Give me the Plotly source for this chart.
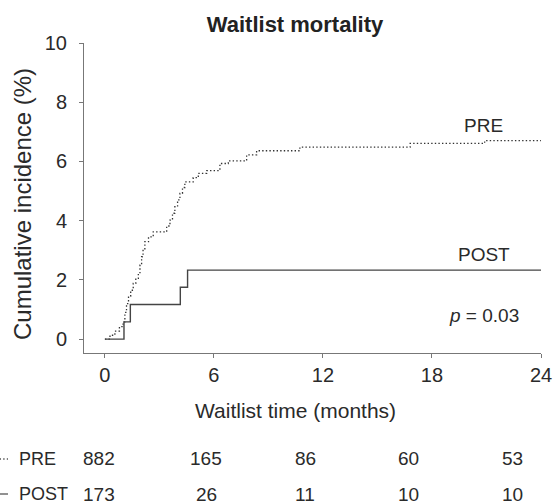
import plotly.graph_objects as go

# ---- data ----
pre_t = [0, 0.28, 0.55, 0.8, 1.0, 1.1, 1.19, 1.3, 1.42, 1.56, 1.7, 1.84, 1.93, 2.02, 2.1, 2.2,
         2.4, 2.66, 3.4, 3.58, 3.72, 3.85, 4.0, 4.13, 4.27, 4.4, 4.86, 5.14, 5.6, 6.33, 6.79,
         7.8, 8.35, 10.73, 16.8, 20.9, 24]
pre_y = [0, 0.13, 0.27, 0.42, 0.58, 0.9, 1.2, 1.45, 1.65, 1.88, 2.05, 2.22, 2.5, 2.78, 3.05, 3.29,
         3.45, 3.62, 3.82, 4.02, 4.25, 4.47, 4.7, 4.92, 5.12, 5.31, 5.45, 5.6, 5.69, 5.93, 6.02,
         6.22, 6.36, 6.48, 6.61, 6.7, 6.7]
post_t = [0, 1.05, 1.4, 4.15, 4.55, 24]
post_y = [0, 0.58, 1.17, 1.75, 2.33, 2.33]

x_ticks = [0, 6, 12, 18, 24]
y_ticks = [0, 2, 4, 6, 8, 10]

risk_groups = ["PRE", "POST"]
risk_pre = [882, 165, 86, 60, 53]
risk_post = [173, 26, 11, 10, 10]

FONT = "Liberation Sans"
TXT = "#2a2a2a"
AX = "#777777"

fig = go.Figure()
fig.add_trace(go.Scatter(x=pre_t, y=pre_y, mode="lines", line_shape="hv",
                         line=dict(color="#333333", width=1.3, dash="1.4px,2.2px"), name="PRE"))
fig.add_trace(go.Scatter(x=post_t, y=post_y, mode="lines", line_shape="hv",
                         line=dict(color="#444444", width=1.4), name="POST"))

# plot area geometry (px)
L, R, T, B = 84, 13, 43, 151
W, H = 554, 504
pw = W - L - R
ph = H - T - B

def px_to_paper_x(px):
    return (px - L) / pw

def px_to_paper_y(py):
    return (H - B - py) / ph

ann = []
ann.append(dict(x=20.86, y=7.23, xref="x", yref="y", text="PRE", showarrow=False,
                font=dict(family=FONT, size=19, color=TXT)))
ann.append(dict(x=20.86, y=2.87, xref="x", yref="y", text="POST", showarrow=False,
                font=dict(family=FONT, size=19, color=TXT)))
ann.append(dict(x=20.86, y=0.8, xref="x", yref="y", text="<i>p</i> = 0.03", showarrow=False,
                font=dict(family=FONT, size=19, color=TXT)))

# axis titles
ann.append(dict(x=px_to_paper_x(295), y=px_to_paper_y(410), xref="paper", yref="paper",
                text="Waitlist time (months)", showarrow=False, xanchor="center", yanchor="middle",
                font=dict(family=FONT, size=21, color=TXT)))
ann.append(dict(x=px_to_paper_x(23), y=px_to_paper_y(204), xref="paper", yref="paper",
                text="Cumulative incidence (%)", showarrow=False, xanchor="center", yanchor="middle",
                textangle=-90, font=dict(family=FONT, size=24, color=TXT)))

# number at risk table
col_px = [99, 206, 305, 408, 512]
row_px = [459, 494]
for r, (g, vals) in enumerate(zip(risk_groups, [risk_pre, risk_post])):
    ann.append(dict(x=px_to_paper_x(17), y=px_to_paper_y(row_px[r]), xref="paper", yref="paper",
                    text=g, showarrow=False, xanchor="left", yanchor="middle",
                    font=dict(family=FONT, size=18, color=TXT)))
    for c, v in enumerate(vals):
        ann.append(dict(x=px_to_paper_x(col_px[c]), y=px_to_paper_y(row_px[r]), xref="paper",
                        yref="paper", text=str(v), showarrow=False, xanchor="center",
                        yanchor="middle", font=dict(family=FONT, size=19, color=TXT)))

shapes = [
    dict(type="line", xref="paper", yref="paper", x0=px_to_paper_x(-4), x1=px_to_paper_x(8),
         y0=px_to_paper_y(row_px[0]), y1=px_to_paper_y(row_px[0]),
         line=dict(color="#555555", width=1.3, dash="1.4px,2.2px")),
    dict(type="line", xref="paper", yref="paper", x0=px_to_paper_x(-4), x1=px_to_paper_x(8),
         y0=px_to_paper_y(row_px[1]), y1=px_to_paper_y(row_px[1]),
         line=dict(color="#555555", width=1.3)),
]

fig.update_layout(
    width=W, height=H,
    margin=dict(l=L, r=R, t=T, b=B, autoexpand=False),
    plot_bgcolor="white", paper_bgcolor="white",
    showlegend=False,
    title=dict(text="<b>Waitlist mortality</b>", x=295 / W, xanchor="center",
               y=1 - 24 / H, yanchor="middle", xref="container", yref="container",
               font=dict(family=FONT, size=22, color="#222222")),
    annotations=ann, shapes=shapes,
    xaxis=dict(range=[-1.15, 24], tickvals=x_ticks, ticktext=[str(v) for v in x_ticks],
               showgrid=False, zeroline=False, showline=True, linecolor=AX, linewidth=1,
               ticks="outside", ticklen=4, tickcolor=AX, automargin=False,
               tickfont=dict(family=FONT, size=20, color=TXT)),
    yaxis=dict(range=[-0.47, 10], tickvals=y_ticks, ticktext=[str(v) for v in y_ticks],
               showgrid=False, zeroline=False, showline=True, linecolor=AX, linewidth=1,
               ticks="outside", ticklen=4, tickcolor=AX, ticklabelstandoff=8, automargin=False,
               tickfont=dict(family=FONT, size=20, color=TXT)),
)

fig.write_html("out.html", config={"displayModeBar": False},
               post_script="document.body.style.margin='0px';document.body.style.overflow='hidden';")
